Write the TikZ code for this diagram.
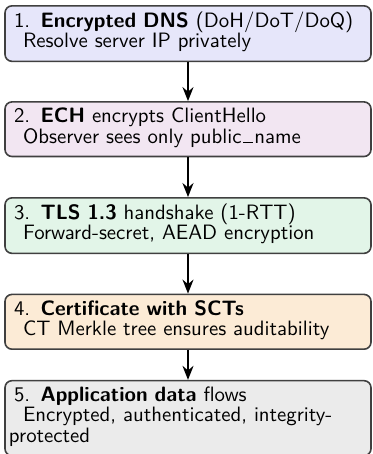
\documentclass[tikz,border=0pt]{standalone}
\usetikzlibrary{arrows.meta}
\renewcommand{\familydefault}{\sfdefault}

\definecolor{dnsfill}{HTML}{E6E6FA}
\definecolor{echfill}{HTML}{F2E6F2}
\definecolor{tlsfill}{HTML}{E2F5E8}
\definecolor{certfill}{HTML}{FCEBD6}
\definecolor{appfill}{HTML}{EBEBEB}
\definecolor{edge}{HTML}{404040}

\tikzset{
  stage/.style={draw=edge, line width=0.8pt, rounded corners=3.5pt,
    text width=179pt, inner xsep=2pt, inner ysep=3pt, align=left,
    anchor=center, font=\sffamily\fontsize{10.4pt}{10.25pt}\selectfont},
  flow/.style={-{Stealth[length=7pt,width=5.5pt]}, line width=0.9pt, black},
}

\newcommand{\firstind}{\hspace*{2.5pt}}
\newcommand{\secondind}{\hspace*{7pt}}
% extra room under the last line of each box
\newcommand{\lastdepth}{\rule[-3.7pt]{0pt}{0pt}}
% thin low underscore, as drawn by the classic \_ macro
\newcommand{\lowbar}{\kern0.08em\vbox{\hrule width 0.45em height 0.45pt}\kern0.08em}

\begin{document}
\begin{tikzpicture}
  \useasboundingbox (0pt,0pt) rectangle (186pt,-227pt);

  \node[stage, fill=dnsfill] (dns) at (94pt,-16.8pt)
    {\firstind 1. \textbf{Encrypted DNS} (DoH/DoT/DoQ)\\
     \secondind Resolve server IP privately\lastdepth};
  \node[stage, fill=echfill] (ech) at (94pt,-64.6pt)
    {\firstind 2. \textbf{ECH} encrypts ClientHello\\
     \secondind Observer sees only public\lowbar name\lastdepth};
  \node[stage, fill=tlsfill] (tls) at (94pt,-112.8pt)
    {\firstind 3. \textbf{TLS 1.3} handshake (1-RTT)\\
     \secondind Forward-secret, AEAD encryption\lastdepth};
  \node[stage, fill=certfill] (cert) at (94pt,-160.9pt)
    {\firstind 4. \textbf{Certificate with SCTs}\\
     \secondind CT Merkle tree ensures auditability\lastdepth};
  \node[stage, fill=appfill] (app) at (94pt,-209.1pt)
    {\firstind 5. \textbf{Application data} flows\\
     \secondind Encrypted, authenticated, integrity-protected\lastdepth};

  \draw[flow] (dns) -- (ech);
  \draw[flow] (ech) -- (tls);
  \draw[flow] (tls) -- (cert);
  \draw[flow] (cert) -- (app);
\end{tikzpicture}
\end{document}
